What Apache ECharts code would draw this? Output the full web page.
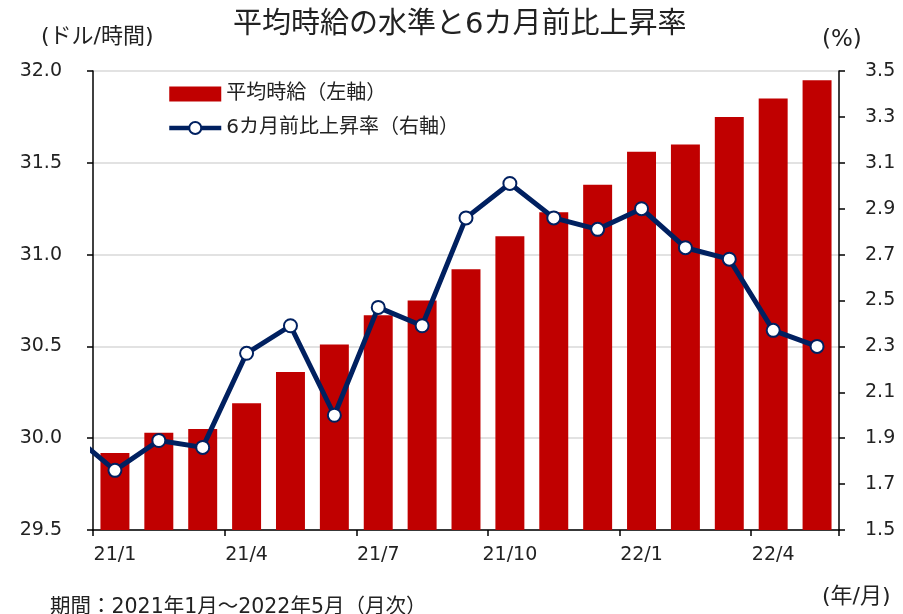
<!DOCTYPE html>
<html>
<head>
<meta charset="utf-8">
<script src="https://cdn.jsdelivr.net/npm/echarts@6/dist/echarts.min.js"></script>
<style>
html, body { margin: 0; padding: 0; background: #fff; }
#chart { width: 903px; height: 614px; }
</style>
</head>
<body>
<div id="chart"></div>
<script>
// 月（横軸）
var months = ['21/1', '21/2', '21/3', '21/4', '21/5', '21/6', '21/7', '21/8', '21/9',
	'21/10', '21/11', '21/12', '22/1', '22/2', '22/3', '22/4', '22/5'];
// 平均時給（ドル/時間）
var wageValues = [29.92, 30.03, 30.05, 30.19, 30.36, 30.51, 30.67, 30.75, 30.92,
	31.10, 31.23, 31.38, 31.56, 31.60, 31.75, 31.85, 31.95];
// 6カ月前比上昇率（%）  先頭は20/12（グラフ左端で切れている）
var rateMonths = ['20/12'].concat(months);
var rateValues = [1.92, 1.76, 1.89, 1.86, 2.27, 2.39, 2.00, 2.47, 2.39, 2.86,
	3.01, 2.86, 2.81, 2.90, 2.73, 2.68, 2.37, 2.30];
// 目盛
var leftTicks = [29.5, 30.0, 30.5, 31.0, 31.5, 32.0];
var rightTicks = [1.5, 1.7, 1.9, 2.1, 2.3, 2.5, 2.7, 2.9, 3.1, 3.3, 3.5];

var numFont = '"DejaVu Sans", "Noto Sans CJK JP", sans-serif';
var navy = '#002060';

var myChart = echarts.init(document.getElementById('chart'), null, { renderer: 'canvas' });

// 折れ線は数値軸上に置く（20/12の点は左端の外 → クリップ）
var lineData = [];
for (var i = 0; i < rateValues.length; i++) {
	lineData.push([i - 1, rateValues[i]]);
}

var option = {
	animation: false,
	backgroundColor: '#fff',
	title: {
		text: '平均時給の水準と6カ月前比上昇率',
		left: 228,
		top: 6,
		textStyle: { fontFamily: numFont, fontSize: 29, fontWeight: 'normal', color: '#222' }
	},
	legend: {
		orient: 'vertical',
		left: 162,
		top: 79,
		itemWidth: 52,
		itemHeight: 15,
		itemGap: 14,
		textStyle: { fontFamily: numFont, fontSize: 20, color: '#222' },
		data: [
			{ name: '平均時給（左軸）', icon: 'rect' },
			{ name: '6カ月前比上昇率（右軸）', lineStyle: { width: 4.5, color: navy } }
		]
	},
	grid: { left: 93, right: 64, top: 71, bottom: 84, containLabel: false },
	xAxis: [{
		type: 'category',
		data: months,
		boundaryGap: true,
		axisLine: { lineStyle: { color: '#000', width: 1.5 } },
		axisTick: { show: true, interval: 2, length: 6, lineStyle: { color: '#000', width: 1.5 } },
		axisLabel: { interval: 2, margin: 16, fontFamily: numFont, fontSize: 19, color: '#222' },
		splitLine: { show: false }
	}, {
		type: 'value',
		min: -0.5,
		max: months.length - 0.5,
		show: false
	}],
	yAxis: [{
		type: 'value',
		min: leftTicks[0],
		max: leftTicks[leftTicks.length - 1],
		interval: 0.5,
		axisLine: { show: true, onZero: false, lineStyle: { color: '#000', width: 1.5 } },
		axisTick: { show: true, length: 6, lineStyle: { color: '#000', width: 1.5 } },
		axisLabel: {
			margin: 31, fontFamily: numFont, fontSize: 19, color: '#222',
			formatter: function (v) { return v.toFixed(1); }
		},
		splitLine: { show: true, lineStyle: { color: '#d9d9d9', width: 1.5 } }
	}, {
		type: 'value',
		min: rightTicks[0],
		max: rightTicks[rightTicks.length - 1],
		position: 'right',
		axisLine: { show: true, onZero: false, lineStyle: { color: '#000', width: 1.5 } },
		axisTick: { show: true, length: 6, customValues: rightTicks, lineStyle: { color: '#000', width: 1.5 } },
		axisLabel: {
			margin: 26, fontFamily: numFont, fontSize: 19, color: '#222',
			customValues: rightTicks,
			formatter: function (v) { return v.toFixed(1); }
		},
		splitLine: { show: false }
	}],
	series: [{
		name: '平均時給（左軸）',
		type: 'bar',
		data: wageValues,
		barWidth: '66%',
		itemStyle: { color: '#c00000' },
		z: 2
	}, {
		name: '6カ月前比上昇率（右軸）',
		type: 'line',
		xAxisIndex: 1,
		yAxisIndex: 1,
		data: lineData,
		clip: true,
		symbol: 'circle',
		symbolSize: 13,
		showAllSymbol: true,
		lineStyle: { color: navy, width: 5 },
		itemStyle: { color: '#fff', borderColor: navy, borderWidth: 2 },
		z: 5
	}],
	graphic: [{
		type: 'text', left: 41, top: 26,
		style: { text: '(ドル/時間)', font: '22px ' + numFont, fill: '#222' }
	}, {
		type: 'text', left: 822, top: 29,
		style: { text: '(%)', font: '23px ' + numFont, fill: '#222' }
	}, {
		type: 'text', left: 822, top: 586,
		style: { text: '(年/月)', font: '22px ' + numFont, fill: '#222' }
	}, {
		type: 'text', left: 50, top: 597,
		style: { text: '期間：2021年1月～2022年5月（月次）', font: '20.5px ' + numFont, fill: '#222' }
	}]
};

myChart.setOption(option);
</script>
</body>
</html>
